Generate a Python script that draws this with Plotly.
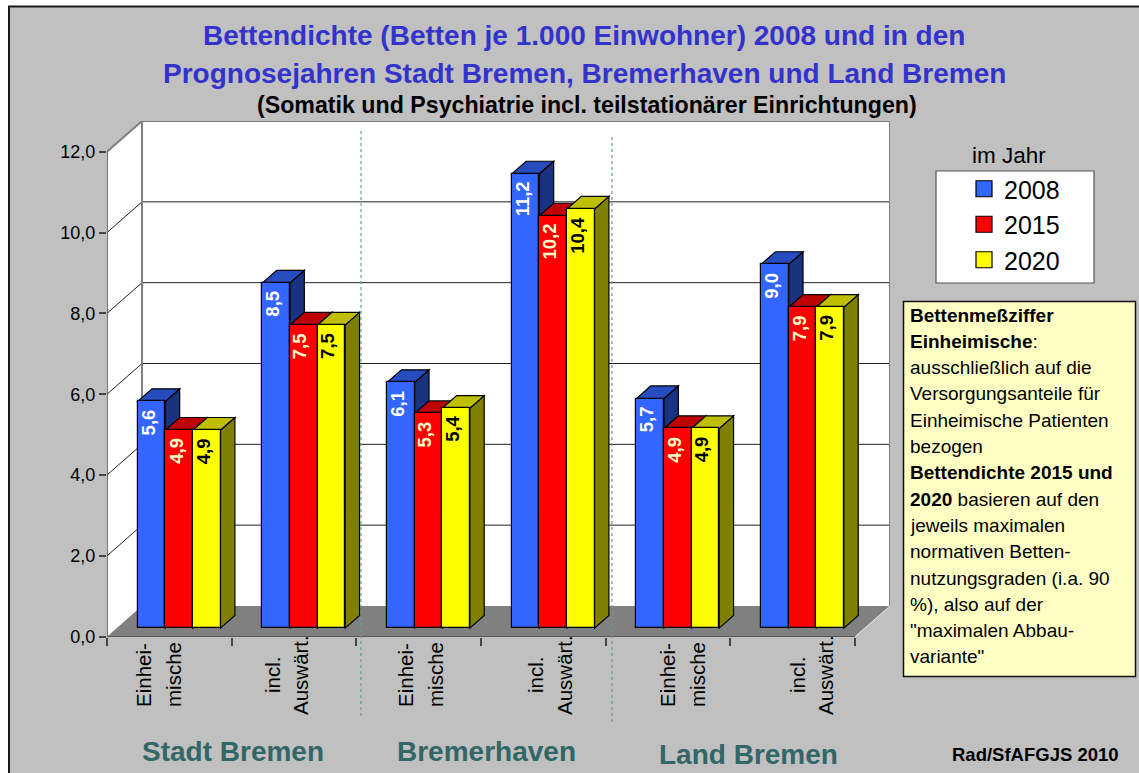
import plotly.graph_objects as go

# ---------- data ----------
regions = ["Stadt Bremen", "Bremerhaven", "Land Bremen"]
categories = ["Einhei-|mische", "incl.|Auswärt.", "Einhei-|mische", "incl.|Auswärt.", "Einhei-|mische", "incl.|Auswärt."]
years = ["2008", "2015", "2020"]
values_2008 = [5.61, 8.54, 6.08, 11.24, 5.68, 9.00]
values_2015 = [4.90, 7.50, 5.31, 10.20, 4.94, 7.94]
values_2020 = [4.90, 7.50, 5.44, 10.37, 4.94, 7.94]
y_ticks = [0, 2, 4, 6, 8, 10, 12]
title_lines = ["Bettendichte (Betten je 1.000 Einwohner) 2008 und in den",
               "Prognosejahren Stadt Bremen, Bremerhaven und Land Bremen"]
note_lines = [
    "<b>Bettenmeßziffer</b>",
    "<b>Einheimische</b>:",
    "ausschließlich auf die",
    "Versorgungsanteile für",
    "Einheimische Patienten",
    "bezogen",
    "<b>Bettendichte 2015 und</b>",
    "<b>2020</b> basieren auf den",
    "jeweils maximalen",
    "normativen Betten-",
    "nutzungsgraden (i.a. 90",
    "%), also auf der",
    "\"maximalen Abbau-",
    "variante\"",
]

# ---------- style / geometry ----------
W, H = 1139, 773
FONT = "Liberation Sans"
X0, Y0 = 107.0, 636.7          # front-left corner in px
PX_CAT = 124.67
PX_VAL = 485 / 12
WALL_DX, WALL_DY = 35.0, 30.7   # depth of the chart box in px
DX, DY = WALL_DX / PX_CAT, WALL_DY / PX_VAL
X_MAX = 6 + DX
Y_MAX = 12 + DY
D_FRONT, D_BACK = 0.28, 0.69   # bar front / back depth (share of box depth)
BAR_W = 27.6 / PX_CAT
FRONT = {"2008": "#3366FF", "2015": "#FF0000", "2020": "#FFFF00"}
TOP = {"2008": "#264CBF", "2015": "#BF0000", "2020": "#BFBF00"}
SIDE = {"2008": "#1A3380", "2015": "#800000", "2020": "#808000"}
LABEL = {"2008": "#FFFFFF", "2015": "#FFFFCC", "2020": "#000000"}
series = {"2008": values_2008, "2015": values_2015, "2020": values_2020}


def px(x):
    return x / W


def py(y):
    return 1 - y / H


def proj(x, v, d):
    return x + d * DX, v + d * DY


def poly(points):
    return "M " + " L ".join(f"{a:.4f} {b:.4f}" for a, b in points) + " Z"


shapes = []
# panel
shapes.append(dict(type="rect", xref="paper", yref="paper", x0=px(9), x1=px(1160), y0=py(6.5), y1=py(790),
                   fillcolor="#C0C0C0", line=dict(color="#1A1A1A", width=2), layer="below"))
WALLS = "#808080"
# left wall, back wall, floor
shapes.append(dict(type="path", xref="x", yref="y", layer="below", fillcolor="#FFFFFF", line=dict(width=0),
                   path=poly([proj(0, 0, 0), proj(0, 0, 1), proj(0, 12, 1), proj(0, 12, 0)])))
shapes.append(dict(type="path", xref="x", yref="y", layer="below", fillcolor="#FFFFFF", line=dict(width=0),
                   path=poly([proj(0, 0, 1), proj(6, 0, 1), proj(6, 12, 1), proj(0, 12, 1)])))
shapes.append(dict(type="path", xref="x", yref="y", layer="below", fillcolor="#808080", line=dict(width=0),
                   path=poly([proj(0, 0, 0), proj(6, 0, 0), proj(6, 0, 1), proj(0, 0, 1)])))
# gridlines
for t in y_ticks[1:-1]:
    a, b, c = proj(0, t, 0), proj(0, t, 1), proj(6, t, 1)
    shapes.append(dict(type="path", xref="x", yref="y", layer="below", line=dict(color="#222222", width=1),
                       path=f"M {a[0]} {a[1]} L {b[0]} {b[1]} L {c[0]} {c[1]}"))
# wall frame
a, b, c, d = proj(0, 12, 0), proj(0, 12, 1), proj(6, 12, 1), proj(6, 0, 1)
shapes.append(dict(type="path", xref="x", yref="y", layer="below", line=dict(color=WALLS, width=2),
                   path=f"M {a[0]} {a[1]} L {b[0]} {b[1]} L {c[0]} {c[1]} L {d[0]} {d[1]}"))
a, b = proj(0, 12, 1), proj(0, 0, 1)
shapes.append(dict(type="line", xref="x", yref="y", layer="below", line=dict(color=WALLS, width=2),
                   x0=a[0], y0=a[1], x1=b[0], y1=b[1]))
a, b = proj(6, 0, 0), proj(6, 0, 1)
shapes.append(dict(type="line", xref="x", yref="y", layer="below", line=dict(color="#E8E8E8", width=1),
                   x0=a[0], y0=a[1], x1=b[0], y1=b[1]))
# axis lines
shapes.append(dict(type="line", xref="x", yref="y", layer="below", line=dict(color="#444444", width=1.5),
                   x0=0, y0=0, x1=0, y1=12))
shapes.append(dict(type="line", xref="x", yref="y", layer="below", line=dict(color="#444444", width=1.5),
                   x0=0, y0=0, x1=6, y1=0))

# 3D faces of the bars
fig = go.Figure()
for i in range(len(categories)):
    for k, yr in enumerate(years):
        v = series[yr][i]
        left = i + 0.5 + (k - 1.5) * BAR_W
        right = left + BAR_W
        a = proj(right, 0, D_FRONT)
        b = proj(right, 0, D_BACK)
        c = proj(right, v, D_BACK)
        e = proj(right, v, D_FRONT)
        shapes.append(dict(type="path", xref="x", yref="y", layer="below", fillcolor=SIDE[yr],
                           line=dict(color="#000000", width=1.2), path=poly([a, b, c, e])))
        f, g, h = proj(left, v, D_FRONT), proj(left, v, D_BACK), proj(right, v, D_BACK)
        shapes.append(dict(type="path", xref="x", yref="y", layer="below", fillcolor=TOP[yr],
                           line=dict(color="#000000", width=1.2), path=poly([f, e, h, g])))

# front faces
base = D_FRONT * DY
for k, yr in enumerate(years):
    xs = [i + 0.5 + (k - 1) * BAR_W + D_FRONT * DX for i in range(len(categories))]
    fig.add_trace(go.Bar(x=xs, y=series[yr], base=base, width=BAR_W, name=yr, showlegend=False,
                         marker=dict(color=FRONT[yr], line=dict(color="#000000", width=1.2))))
# legend entries
for yr in years:
    fig.add_trace(go.Scatter(x=[None], y=[None], mode="markers", name=yr, legendgroup=yr,
                             marker=dict(symbol="square", size=16, color=FRONT[yr],
                                         line=dict(color="#000000", width=1.2))))

annotations = []


def note(x, y, text, size, color="#000000", anchor="center", angle=0):
    annotations.append(dict(xref="paper", yref="paper", x=px(x), y=py(y), text=text, showarrow=False,
                            xanchor=anchor, yanchor="middle", textangle=angle,
                            font=dict(family=FONT, size=size, color=color)))


# data labels
for k, yr in enumerate(years):
    for i, v in enumerate(series[yr]):
        annotations.append(dict(xref="x", yref="y", x=i + 0.5 + (k - 1) * BAR_W + D_FRONT * DX, y=base + v,
                                text=f"<b>{v:.1f}</b>".replace(".", ","), showarrow=False, textangle=-90,
                                xanchor="center", yanchor="top", yshift=-6, xshift=-3.5,
                                font=dict(family=FONT, size=18.5, color=LABEL[yr])))

# category labels
line_x = [(143, 173), (272, 300), (405, 435), (535, 564), (667, 697), (797, 825)]
for cat, (x1, x2) in zip(categories, line_x):
    l1, l2 = cat.split("|")
    note(x1, 675, l1, 20.5, angle=-90)
    note(x2, 675, l2, 20.5, angle=-90)

# region labels
for name, x, y in zip(regions, [233, 486, 748], [751, 751, 754]):
    note(x, y, f"<b>{name}</b>", 28, color="#336666")

note(1035.5, 754, "<b>Rad/SfAFGJS 2010</b>", 18.5)
note(584, 36, f"<b>{title_lines[0]}</b>", 28, color="#3333CC")
note(584, 73, f"<b>{title_lines[1]}</b>", 28, color="#3333CC")
note(587, 105, "<b>(Somatik und Psychiatrie incl. teilstationärer Einrichtungen)</b>", 23.2)
note(1009, 155, "im Jahr", 22.5)

# note box
shapes.append(dict(type="rect", xref="paper", yref="paper", x0=px(903.5), x1=px(1135.5), y0=py(301.5), y1=py(676.5),
                   fillcolor="#FFFFC4", line=dict(color="#111111", width=1.5), layer="below"))
for j, line in enumerate(note_lines):
    note(908, 315 + j * 26.3, line, 19, anchor="left")

# legend box
shapes.append(dict(type="rect", xref="paper", yref="paper", x0=px(936), x1=px(1094), y0=py(171), y1=py(283),
                   fillcolor="#FFFFFF", line=dict(color="#555555", width=1.2), layer="below"))
# dotted separators
for x, y1, y2 in [(361, 131, 716), (612, 137, 723)]:
    shapes.append(dict(type="line", xref="paper", yref="paper", x0=px(x), x1=px(x), y0=py(y1), y1=py(y2),
                       line=dict(color="#669999", width=1.2, dash="dot"), layer="above"))

fig.update_layout(
    width=W, height=H, autosize=False,
    margin=dict(l=0, r=0, t=0, b=0, pad=0),
    paper_bgcolor="#FFFFFF", plot_bgcolor="rgba(0,0,0,0)",
    separators=",.",
    barmode="overlay", bargap=0,
    font=dict(family=FONT, color="#000000"),
    showlegend=True,
    legend=dict(x=px(964), y=py(166), xanchor="left", yanchor="top", bgcolor="rgba(0,0,0,0)",
                borderwidth=0, font=dict(family=FONT, size=25), tracegroupgap=0, itemsizing="trace"),
    xaxis=dict(domain=[px(X0), px(X0 + X_MAX * PX_CAT)], range=[0, X_MAX], showgrid=False, zeroline=False,
               showline=False, showticklabels=False, tickvals=list(range(7)), ticks="outside", ticklen=8,
               tickcolor="#444444", tickwidth=1.5, automargin=False),
    yaxis=dict(domain=[py(Y0), py(Y0 - Y_MAX * PX_VAL)], range=[0, Y_MAX], showgrid=False, zeroline=False,
               showline=False, tickvals=y_ticks, tickformat=".1f", ticks="outside", ticklen=7,
               tickcolor="#444444", tickwidth=1.5, tickfont=dict(family=FONT, size=18, color="#000000"),
               automargin=False),
    shapes=shapes,
    annotations=annotations,
)

fig.write_html("out.html", config={"displayModeBar": False},
               post_script="document.body.style.margin='0';document.body.style.overflow='hidden';")
